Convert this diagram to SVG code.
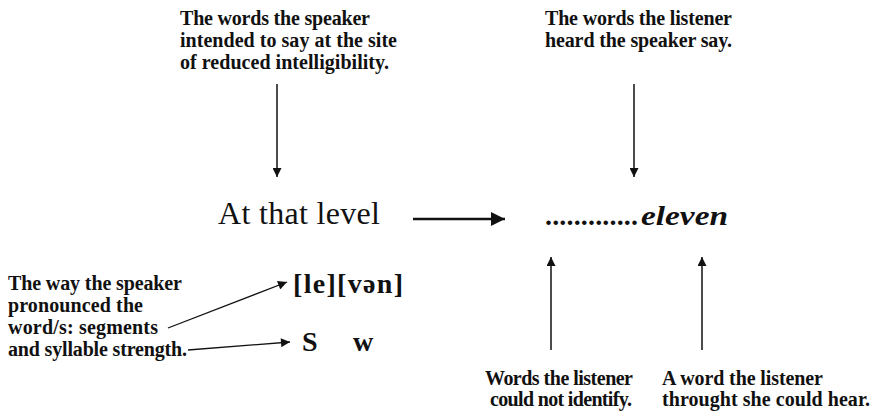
<svg xmlns="http://www.w3.org/2000/svg" width="873" height="412" viewBox="0 0 873 412">
<style>
.s{font-family:"Liberation Serif","Times New Roman",serif;font-size:20px;font-weight:bold;fill:#111}
.big{font-family:"Liberation Serif","Times New Roman",serif;font-size:32px;fill:#111}
.ph{font-family:"Liberation Serif","Times New Roman",serif;font-size:28px;font-weight:bold;fill:#111}
.ln{stroke:#111;fill:none}
</style>
<defs>
<marker id="ah" viewBox="0 0 10 10" refX="10" refY="5" markerWidth="10" markerHeight="9" markerUnits="userSpaceOnUse" orient="auto"><path d="M0,0 L10,5 L0,10 z" fill="#111"/></marker>
<marker id="ahb" viewBox="0 0 10 10" refX="10" refY="5" markerWidth="15" markerHeight="14" markerUnits="userSpaceOnUse" orient="auto"><path d="M0,0 L10,5 L0,10 z" fill="#111"/></marker>
</defs>
<rect width="873" height="412" fill="#fff"/>
<g id="intended">
<text class="s" x="180" y="25" textLength="190">The words the speaker</text>
<text class="s" x="180" y="47" textLength="217">intended to say at the site</text>
<text class="s" x="180" y="69" textLength="209">of reduced intelligibility.</text>
</g>
<g id="heard">
<text class="s" x="545" y="25" textLength="187">The words the listener</text>
<text class="s" x="545" y="47" textLength="187">heard the speaker say.</text>
</g>
<g id="atthatlevel">
<text class="big" x="218" y="224" textLength="162">At that level</text>
</g>
<g id="eleven">
<text class="ph" x="545" y="225" font-weight="normal" textLength="93">.............</text>
<text class="ph" x="641" y="225" font-size="35" font-style="italic" textLength="87" lengthAdjust="spacingAndGlyphs">eleven</text>
</g>
<g id="segments">
<text class="ph" x="293" y="293" textLength="110">[le][vən]</text>
</g>
<g id="strength">
<text class="ph" x="302" y="351" font-size="27">S</text>
<text class="ph" x="353" y="351" font-size="27">w</text>
</g>
<g id="pronounced">
<text class="s" x="8" y="290" textLength="174">The way the speaker</text>
<text class="s" x="8" y="312" textLength="135">pronounced the</text>
<text class="s" x="8" y="334" textLength="150">word/s: segments</text>
<text class="s" x="8" y="356" textLength="179">and syllable strength.</text>
</g>
<g id="notidentify">
<text class="s" x="485" y="385" textLength="148">Words the listener</text>
<text class="s" x="490" y="406" textLength="142">could not identify.</text>
</g>
<g id="couldhear">
<text class="s" x="662" y="385" textLength="161">A word the listener</text>
<text class="s" x="662" y="406" textLength="208">throught she could hear.</text>
</g>
<g id="connectors">
<line class="ln" x1="277" y1="84" x2="277" y2="177" stroke-width="1.5" marker-end="url(#ah)"/>
<line class="ln" x1="634" y1="84" x2="634" y2="177" stroke-width="1.5" marker-end="url(#ah)"/>
<line class="ln" x1="413" y1="219" x2="505" y2="219" stroke-width="2.5" marker-end="url(#ahb)"/>
<line class="ln" x1="551" y1="350" x2="551" y2="257" stroke-width="1.5" marker-end="url(#ah)"/>
<line class="ln" x1="702" y1="350" x2="702" y2="257" stroke-width="1.5" marker-end="url(#ah)"/>
<line class="ln" x1="168" y1="328" x2="287" y2="282" stroke-width="1.3" marker-end="url(#ah)"/>
<line class="ln" x1="188" y1="350" x2="290" y2="342" stroke-width="1.3" marker-end="url(#ah)"/>
</g>
</svg>
